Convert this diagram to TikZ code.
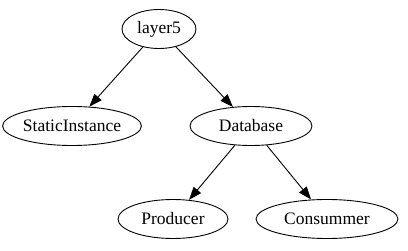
\documentclass[tikz,border=0pt]{standalone}
\usepackage{fontspec}
\setmainfont{Liberation Serif}
\usetikzlibrary{shapes.geometric,arrows.meta}
\begin{document}
\begin{tikzpicture}[x=1pt,y=-1pt,
  vertex/.style={draw,ellipse,line width=0.9pt,inner sep=0pt,minimum height=39pt,
    font=\fontsize{17.5}{20}\selectfont},
  link/.style={line width=0.9pt,-{Triangle[length=13pt,width=9.5pt]}}]
\useasboundingbox (0,0) rectangle (408,251);
\node[vertex,minimum width=74pt]  (layer5) at (159,29)  {layer5};
\node[vertex,minimum width=134pt] (static) at (72,126)  {StaticInstance};
\node[vertex,minimum width=122pt] (db)     at (251,126) {Database};
\node[vertex,minimum width=110pt] (prod)   at (173,219) {Producer};
\node[vertex,minimum width=142pt] (cons)   at (327,219) {Consummer};
\draw[link] (layer5) -- (static);
\draw[link] (layer5) -- (db);
\draw[link] (db) -- (prod);
\draw[link] (db) -- (cons);
\end{tikzpicture}
\end{document}
